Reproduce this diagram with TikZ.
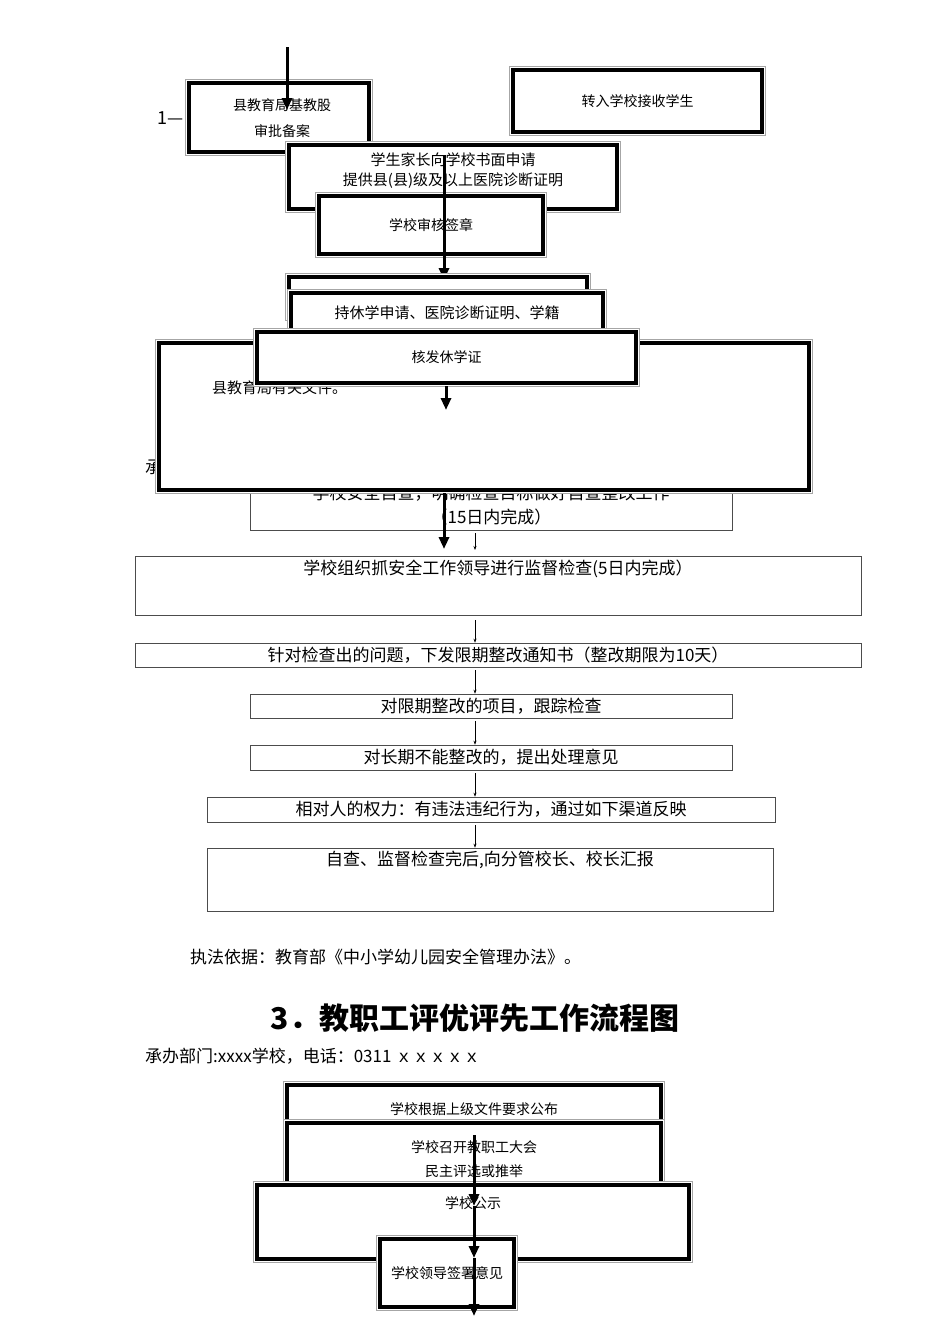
\documentclass[tikz,border=0pt]{standalone}
\usepackage{fontspec}
\setmainfont{Noto Sans CJK SC}
\usetikzlibrary{arrows.meta}
\tikzset{
 dbox/.style={draw=black,line width=4pt,fill=white,inner sep=0pt,align=center,font=\fontsize{14}{20}\selectfont,
   preaction={draw=gray!70,line width=8pt},preaction={draw=white,line width=6pt}},
 tbox/.style={draw=black!70,line width=0.6pt,fill=white,inner sep=0pt,align=center,font=\fontsize{17}{20}\selectfont},
 thick arrow/.style={line width=3pt,-{Triangle[length=12pt,width=10pt]}},
 thin arrow/.style={line width=0.6pt,-{Stealth[length=4pt,width=3pt]}},
 txt/.style={inner sep=0pt,anchor=west},
}
\begin{document}
\begin{tikzpicture}[x=1pt,y=-1pt]
\useasboundingbox[fill=white] (0,0) rectangle (950,1344);
% top section
\node[txt,font=\fontsize{18}{20}\selectfont] (one) at (157,118) {1—};
\node[dbox,minimum width=180pt,minimum height=69pt] (a) at (279,117.5) {};
\node[font=\fontsize{14}{20}\selectfont,align=center] (at) at (282,118) {县教育局基教股\\[6pt]审批备案};
\coordinate (a0) at (287,47);
\coordinate (a1) at (287,110);
\draw[thick arrow] (a0) -- (a1);
\node[dbox,minimum width=249pt,minimum height=62pt] (b) at (637.5,101) {转入学校接收学生};
\node[dbox,minimum width=328pt,minimum height=64pt] (c) at (453,177) {};
\node[font=\fontsize{15}{20}\selectfont,align=center] (ct) at (453,171) {学生家长向学校书面申请\\提供县(县)级及以上医院诊断证明};
\node[dbox,minimum width=224pt,minimum height=58pt] (d) at (431,225) {学校审核签章};
\coordinate (b0) at (444,155);
\coordinate (b1) at (444,280);
\draw[thick arrow] (b0) -- (b1);
\node[dbox,minimum width=298pt,minimum height=40pt] (e) at (438,297) {};
\node[dbox,minimum width=312pt,minimum height=40pt,font=\fontsize{15}{20}\selectfont] (f) at (447,313) {持休学申请、医院诊断证明、学籍};
% under-layer of second section
\node[txt,font=\fontsize{17}{20}\selectfont] (cheng) at (145,467) {承};
\node[tbox,minimum width=482pt,minimum height=52pt] (i) at (491,504) {};
\node[font=\fontsize{17}{20}\selectfont] (it1) at (491,493) {学校安全自查，明确检查目标做好自查整改工作};
\node[font=\fontsize{17}{20}\selectfont] (it2) at (491,517) {（15日内完成）};
\node[dbox,minimum width=650pt,minimum height=147pt] (g) at (484,416.5) {};
\node[txt,font=\fontsize{15}{20}\selectfont] (gt) at (212,388) {县教育局有关文件。};
\node[dbox,minimum width=379pt,minimum height=51pt] (h) at (446.5,357.5) {核发休学证};
\coordinate (c0) at (446,386);
\coordinate (c1) at (446,410);
\draw[thick arrow] (c0) -- (c1);
\coordinate (d0) at (444,493);
\coordinate (d1) at (444,549);
\draw[thick arrow] (d0) -- (d1);
% thin chain
\node[tbox,minimum width=726pt,minimum height=59pt] (j) at (498,585.5) {};
\node[font=\fontsize{17}{20}\selectfont] (jt) at (498,569) {学校组织抓安全工作领导进行监督检查(5日内完成）};
\node[tbox,minimum width=726pt,minimum height=24pt] (k) at (498,655) {针对检查出的问题，下发限期整改通知书（整改期限为10天）};
\node[tbox,minimum width=482pt,minimum height=24pt] (l) at (491,706) {对限期整改的项目，跟踪检查};
\node[tbox,minimum width=482pt,minimum height=25pt] (m) at (491,757.5) {对长期不能整改的，提出处理意见};
\node[tbox,minimum width=568pt,minimum height=25pt] (n) at (491,809.5) {相对人的权力：有违法违纪行为，通过如下渠道反映};
\node[tbox,minimum width=566pt,minimum height=63pt] (o) at (490,879.5) {};
\node[font=\fontsize{17}{20}\selectfont] (ot) at (490,860) {自查、监督检查完后,向分管校长、校长汇报};
\draw[thin arrow] (475,533) -- (475,550);
\draw[thin arrow] (475,620) -- (k.north -| 475,0);
\draw[thin arrow] (475,670) -- (l.north -| 475,0);
\draw[thin arrow] (475,721) -- (m.north -| 475,0);
\draw[thin arrow] (475,773) -- (n.north -| 475,0);
\draw[thin arrow] (475,825) -- (o.north -| 475,0);
\node[txt,font=\fontsize{17}{20}\selectfont] (law) at (190,957) {执法依据：教育部《中小学幼儿园安全管理办法》。};
\node[font=\fontsize{30}{34}\selectfont\bfseries] (title) at (475,1018) {3．教职工评优评先工作流程图};
\node[txt,font=\fontsize{17}{20}\selectfont] (dept) at (145,1056) {承办部门:xxxx学校，电话：0311 ｘｘｘｘｘ};
% bottom section
\node[dbox,minimum width=374pt,minimum height=42pt] (p) at (474,1106) {};
\node[font=\fontsize{14}{20}\selectfont] (pt) at (474,1109) {学校根据上级文件要求公布};
\node[dbox,minimum width=374pt,minimum height=60pt] (q) at (474,1153) {};
\node[font=\fontsize{14}{20}\selectfont,align=center] (qt) at (474,1159) {学校召开教职工大会\\[4pt]民主评选或推举};
\node[dbox,minimum width=432pt,minimum height=74pt] (r) at (473,1222) {};
\node[font=\fontsize{14}{20}\selectfont] (rt) at (473,1203) {学校公示};
\node[dbox,minimum width=134pt,minimum height=68pt] (s) at (447,1273) {学校领导签署意见};
\coordinate (k1) at (474,1135);
\coordinate (k2) at (474,1206);
\coordinate (k3) at (474,1258);
\coordinate (k4) at (474,1316);
\draw[thick arrow] (k1) -- (k2);
\draw[thick arrow] (k2) -- (k3);
\draw[thick arrow] (k3) -- (k4);
\end{tikzpicture}
\end{document}
